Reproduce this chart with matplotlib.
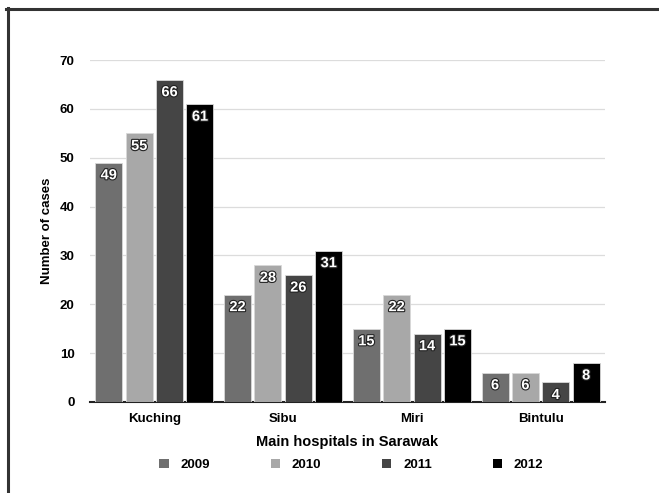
import matplotlib.pyplot as plt
import matplotlib.patheffects as pe
import numpy as np
from matplotlib.lines import Line2D
from matplotlib.patches import Patch

plt.rcParams['font.family'] = ['Liberation Sans', 'DejaVu Sans']
plt.rcParams['font.weight'] = 'bold'

hospitals = ['Kuching', 'Sibu', 'Miri', 'Bintulu']
years = ['2009', '2010', '2011', '2012']
cases_2009 = [49, 22, 15, 6]
cases_2010 = [55, 28, 22, 6]
cases_2011 = [66, 26, 14, 4]
cases_2012 = [61, 31, 15, 8]
colors = ['#6f6f6f', '#a8a8a8', '#454545', '#000000']

series = [cases_2009, cases_2010, cases_2011, cases_2012]

fig = plt.figure(figsize=(6.59, 4.93), dpi=100)
ax = fig.add_axes([0.1366, 0.1846, 0.7814, 0.6934])

x = np.arange(len(hospitals))
pitch = 0.236
width = 0.21
for i, (vals, col) in enumerate(zip(series, colors)):
    pos = x + (i - 1.5) * pitch
    bars = ax.bar(pos, vals, width, color=col, edgecolor='#d8d8d8', linewidth=0.6, zorder=3)
    for b, v in zip(bars, vals):
        ax.annotate(str(v), (b.get_x() + b.get_width() / 2, v), xytext=(0, -4),
                    textcoords='offset points', ha='center', va='top',
                    color='white', fontsize=10.5, fontweight='bold', zorder=4,
                    path_effects=[pe.withStroke(linewidth=1.6, foreground='#222222')])

ax.set_xlim(-0.5, 3.5)
ax.set_ylim(0, 70)
ax.set_yticks(range(0, 71, 10))
ax.yaxis.grid(True, color='#dcdcdc', linewidth=0.9, zorder=0)
ax.set_axisbelow(True)
for s in ['top', 'right', 'left']:
    ax.spines[s].set_visible(False)
ax.spines['bottom'].set_linewidth(1.5)
ax.spines['bottom'].set_color('#222222')
ax.tick_params(axis='y', length=0, pad=11, labelsize=9.5)
ax.tick_params(axis='x', length=0, pad=8, labelsize=9.5)
ax.set_xticks(x)
ax.set_xticklabels(hospitals)
ax.set_xlabel('Main hospitals in Sarawak', fontsize=10.5, fontweight='bold', labelpad=7)
ax.set_ylabel('Number of cases', fontsize=9.5, fontweight='bold', labelpad=5)

handles = [Patch(facecolor=c, edgecolor='none') for c in colors]
fig.legend(handles, years, loc='center', bbox_to_anchor=(0.533, 0.057), ncol=4,
           frameon=False, fontsize=9.5, handlelength=0.7, handleheight=0.7,
           handletextpad=0.9, columnspacing=4.6)

# partial frame (top and left) like the cropped screenshot
fig.add_artist(Line2D([6 / 659, 1], [1 - 8.5 / 493] * 2, transform=fig.transFigure,
                      color='#333333', linewidth=2.2))
fig.add_artist(Line2D([7.5 / 659] * 2, [0, 1 - 8 / 493], transform=fig.transFigure,
                      color='#333333', linewidth=2.2))

fig.savefig('out.png', dpi=100)
